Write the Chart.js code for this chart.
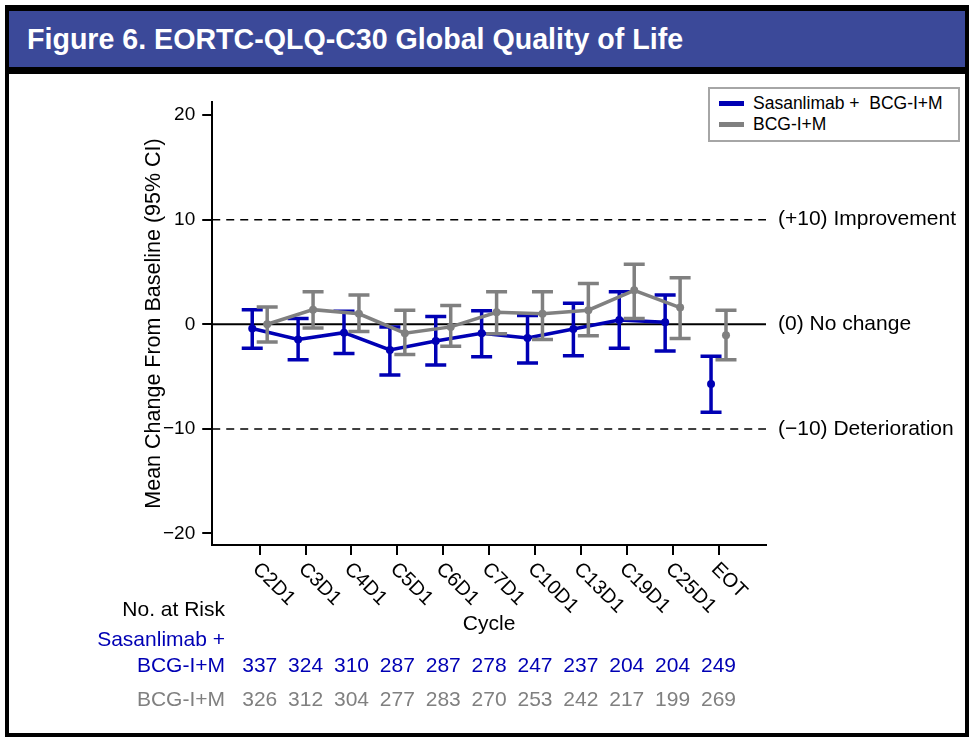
<!DOCTYPE html>
<html>
<head>
<meta charset="utf-8">
<script src="https://cdn.jsdelivr.net/npm/chart.js"></script>
<style>
  * { margin: 0; padding: 0; box-sizing: border-box; }
  body { background: #fff; font-family: "Liberation Sans", Arial, sans-serif; }
  #wrap { position: relative; width: 978px; height: 746px; }
  .frame { position: absolute; left: 5px; top: 5px; width: 964px; height: 732px; border: 4px solid #000; }
  .titlebar { position: absolute; left: 9px; top: 9px; width: 956px; height: 65px; background: #000; }
  .titlebar div { position: absolute; left: 0; top: 2px; width: 956px; height: 56px; background: #3b4999;
                  color: #fff; font-weight: bold; font-size: 28.6px; line-height: 57px; padding-left: 18px; }
  canvas { position: absolute; left: 0; top: 0; }
  .legend { position: absolute; left: 708px; top: 87px; width: 252px; height: 55px; border: 2px solid #a6a6a6;
            background: #fff; font-size: 17.5px; color: #000; }
  .legend .item { position: absolute; left: 9px; height: 20px; display: flex; align-items: center; }
  .legend .swatch { width: 25px; height: 5px; margin-right: 9px; }
</style>
</head>
<body>
<div id="wrap">
  <div class="frame"></div>
  <div class="titlebar"><div>Figure 6. EORTC-QLQ-C30 Global Quality of Life</div></div>
  <canvas id="chart" width="978" height="746"></canvas>
  <div class="legend" id="legend"></div>
</div>
<script>
// categories and data
const cycles = ["C2D1", "C3D1", "C4D1", "C5D1", "C6D1", "C7D1", "C10D1", "C13D1", "C19D1", "C25D1", "EOT"];

const sasMean = [-0.4, -1.45, -0.8, -2.45, -1.6, -0.85, -1.3, -0.45, 0.4, 0.2, -5.7];
const sasLow  = [-2.3, -3.4, -2.8, -4.85, -3.9, -3.1, -3.7, -3.0, -2.3, -2.55, -8.4];
const sasHigh = [1.4, 0.55, 1.25, -0.25, 0.75, 1.3, 0.85, 2.0, 3.1, 2.8, -3.05];

const bcgMean = [0.0, 1.4, 1.0, -0.85, -0.25, 1.15, 1.0, 1.35, 3.25, 1.6, -1.05];
const bcgLow  = [-1.7, -0.35, -0.7, -2.9, -2.1, -0.9, -1.45, -1.1, 0.55, -1.35, -3.4];
const bcgHigh = [1.65, 3.1, 2.8, 1.35, 1.8, 3.1, 3.1, 3.9, 5.75, 4.45, 1.35];

const sasRisk = [337, 324, 310, 287, 287, 278, 247, 237, 204, 204, 249];
const bcgRisk = [326, 312, 304, 277, 283, 270, 253, 242, 217, 199, 269];

const yTicks = [-20, -10, 0, 10, 20];
const yTitle = "Mean Change From Baseline (95% CI)";
const refLines = [
  { value: 10, label: "(+10) Improvement", dash: true },
  { value: 0, label: "(0) No change", dash: false },
  { value: -10, label: "(\u221210) Deterioration", dash: true }
];

const BLUE = "#0000b4";
const GREY = "#808080";
const FONT = '"Liberation Sans", Arial, sans-serif';
const dodge = 0.163;

// legend
const legendItems = [
  { label: "Sasanlimab +\u00a0 BCG-I+M", color: BLUE },
  { label: "BCG-I+M", color: GREY }
];
document.getElementById("legend").innerHTML = legendItems.map((it, i) =>
  `<div class="item" style="top:${4 + i * 21}px"><div class="swatch" style="background:${it.color}"></div>${it.label}</div>`
).join("");

Chart.defaults.font.family = FONT;

const toPoints = (vals, off) => vals.map((v, i) => ({ x: i + off, y: v }));

// reference lines under the data
const refPlugin = {
  id: "refLines",
  beforeDatasetsDraw(chart) {
    const { ctx, chartArea, scales: { y } } = chart;
    ctx.save();
    refLines.forEach(r => {
      const py = y.getPixelForValue(r.value);
      ctx.beginPath();
      ctx.strokeStyle = "#000";
      ctx.lineWidth = r.dash ? 1.5 : 2;
      ctx.setLineDash(r.dash ? [8, 6] : []);
      ctx.moveTo(chartArea.left, py);
      ctx.lineTo(chartArea.right, py);
      ctx.stroke();
    });
    ctx.restore();
  }
};

// 95% CI bars
const errorBars = {
  id: "errorBars",
  afterDatasetDraw(chart, args) {
    const ds = chart.data.datasets[args.index];
    if (!ds.low) return;
    const { ctx, scales: { x, y } } = chart;
    ctx.save();
    ctx.strokeStyle = ds.borderColor;
    ctx.lineWidth = 3.5;
    ds.data.forEach((p, i) => {
      const px = x.getPixelForValue(p.x);
      const top = y.getPixelForValue(ds.high[i]);
      const bot = y.getPixelForValue(ds.low[i]);
      ctx.beginPath();
      ctx.moveTo(px, top); ctx.lineTo(px, bot);
      ctx.moveTo(px - 10.5, top); ctx.lineTo(px + 10.5, top);
      ctx.moveTo(px - 10.5, bot); ctx.lineTo(px + 10.5, bot);
      ctx.stroke();
    });
    ctx.restore();
  }
};

// axis title, rotated cycle labels, right-hand labels, risk table
const textPlugin = {
  id: "texts",
  afterDraw(chart) {
    const { ctx, chartArea, scales: { x, y } } = chart;
    ctx.save();
    ctx.fillStyle = "#000";
    ctx.textBaseline = "middle";

    ctx.save();
    ctx.font = "21.5px " + FONT;
    ctx.textAlign = "center";
    ctx.translate(154, (chartArea.top + chartArea.bottom) / 2);
    ctx.rotate(-Math.PI / 2);
    ctx.fillText(yTitle, 0, 0);
    ctx.restore();

    ctx.font = "20px " + FONT;
    ctx.textAlign = "left";
    cycles.forEach((c, i) => {
      const px = x.getPixelForValue(i);
      ctx.save();
      ctx.translate(px - 4, chartArea.bottom + 21);
      ctx.rotate(Math.PI / 4);
      ctx.fillText(c, 0, 0);
      ctx.restore();
    });

    ctx.font = "21px " + FONT;
    refLines.forEach(r => ctx.fillText(r.label, chartArea.right + 12, y.getPixelForValue(r.value)));

    ctx.textAlign = "center";
    ctx.fillText("Cycle", (chartArea.left + chartArea.right) / 2, 624);

    ctx.textAlign = "right";
    ctx.fillText("No. at Risk", 225, 610);
    ctx.fillStyle = BLUE;
    ctx.fillText("Sasanlimab +", 225, 640);
    ctx.fillText("BCG-I+M", 225, 666);
    ctx.fillStyle = GREY;
    ctx.fillText("BCG-I+M", 225, 700);

    ctx.textAlign = "center";
    cycles.forEach((c, i) => {
      const px = x.getPixelForValue(i);
      ctx.fillStyle = BLUE;
      ctx.fillText(String(sasRisk[i]), px, 666);
      ctx.fillStyle = GREY;
      ctx.fillText(String(bcgRisk[i]), px, 700);
    });
    ctx.restore();
  }
};

const lastIdx = cycles.length - 1;
const hideLastSegment = c => (c.p1DataIndex === lastIdx ? "transparent" : undefined);

new Chart(document.getElementById("chart"), {
  type: "scatter",
  data: {
    datasets: [
      {
        label: legendItems[0].label,
        data: toPoints(sasMean, -dodge),
        low: sasLow, high: sasHigh,
        showLine: true,
        borderColor: BLUE, backgroundColor: BLUE,
        borderWidth: 3.5, pointRadius: 4, pointBorderWidth: 0,
        segment: { borderColor: hideLastSegment },
        order: 2
      },
      {
        label: legendItems[1].label,
        data: toPoints(bcgMean, dodge),
        low: bcgLow, high: bcgHigh,
        showLine: true,
        borderColor: GREY, backgroundColor: GREY,
        borderWidth: 3.5, pointRadius: 4, pointBorderWidth: 0,
        segment: { borderColor: hideLastSegment },
        order: 1
      }
    ]
  },
  options: {
    responsive: false,
    devicePixelRatio: 1,
    animation: false,
    layout: { padding: { left: 156, top: 102, right: 212, bottom: 191 } },
    plugins: { legend: { display: false }, tooltip: { enabled: false } },
    scales: {
      x: {
        type: "linear", min: -1.035, max: 11.035,
        afterBuildTicks: s => { s.ticks = cycles.map((c, i) => ({ value: i })); },
        ticks: { display: false },
        grid: { drawOnChartArea: false, drawTicks: true, tickLength: 10, color: "#000", lineWidth: 2 },
        border: { color: "#000", width: 2 }
      },
      y: {
        min: -21.1, max: 21.25,
        afterBuildTicks: s => { s.ticks = yTicks.map(v => ({ value: v })); },
        ticks: {
          color: "#000", font: { size: 19 }, padding: 7,
          callback: v => (v < 0 ? "\u2212" + Math.abs(v) : String(v))
        },
        grid: { drawOnChartArea: false, drawTicks: true, tickLength: 10, color: "#000", lineWidth: 2 },
        border: { color: "#000", width: 2 }
      }
    }
  },
  plugins: [refPlugin, errorBars, textPlugin]
});
</script>
</body>
</html>
